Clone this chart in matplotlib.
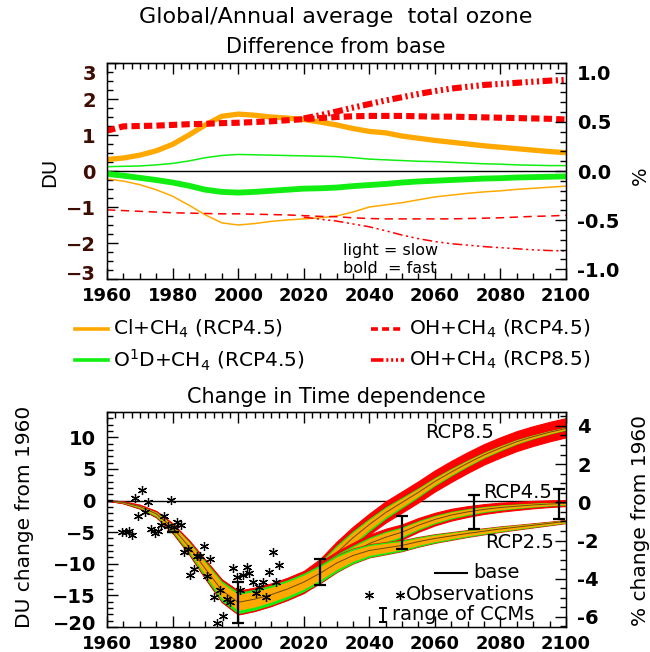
import numpy as np
import matplotlib
matplotlib.use("Agg")
import matplotlib.pyplot as plt
from matplotlib.ticker import MultipleLocator, FormatStrFormatter
from matplotlib.lines import Line2D
from matplotlib.transforms import ScaledTranslation

plt.rcParams['font.family'] = 'DejaVu Sans'
plt.rcParams['lines.scale_dashes'] = False

ORANGE = '#ffa800'
GREEN = '#11ee11'
RED = '#ff0000'
TICK_DARK = '#3d0c02'

# 5-yearly time axis
years = np.arange(1960, 2101, 5)
years85 = years[years >= 2020]

# Difference from base (DU), RCP4.5 sensitivity runs
cl_fast = [0.32, 0.36, 0.44, 0.56, 0.74, 1.00, 1.28, 1.52, 1.58, 1.55, 1.50, 1.47, 1.43, 1.36, 1.28,
           1.18, 1.10, 1.06, 0.97, 0.91, 0.85, 0.80, 0.75, 0.70, 0.66, 0.62, 0.58, 0.54, 0.51]
cl_slow = [-0.22, -0.28, -0.38, -0.52, -0.70, -0.95, -1.22, -1.44, -1.50, -1.46, -1.40, -1.36, -1.33, -1.30, -1.25,
           -1.14, -1.00, -0.94, -0.88, -0.80, -0.72, -0.67, -0.62, -0.58, -0.55, -0.51, -0.48, -0.45, -0.42]
o1d_fast = [-0.08, -0.13, -0.19, -0.25, -0.32, -0.41, -0.52, -0.58, -0.60, -0.58, -0.55, -0.52, -0.49, -0.48, -0.46,
            -0.42, -0.39, -0.36, -0.32, -0.29, -0.27, -0.25, -0.23, -0.21, -0.20, -0.18, -0.17, -0.16, -0.15]
o1d_slow = [0.12, 0.13, 0.14, 0.17, 0.21, 0.28, 0.37, 0.43, 0.46, 0.45, 0.44, 0.43, 0.42, 0.41, 0.40,
            0.37, 0.33, 0.31, 0.29, 0.27, 0.26, 0.24, 0.22, 0.20, 0.19, 0.17, 0.16, 0.15, 0.15]
oh45_fast = [1.12, 1.24, 1.25, 1.26, 1.28, 1.30, 1.31, 1.33, 1.34, 1.36, 1.38, 1.41, 1.44, 1.47, 1.50,
             1.52, 1.53, 1.53, 1.53, 1.52, 1.51, 1.51, 1.50, 1.49, 1.48, 1.47, 1.46, 1.45, 1.43]
oh45_slow = [-1.08, -1.10, -1.12, -1.14, -1.16, -1.17, -1.18, -1.19, -1.19, -1.20, -1.21, -1.22, -1.24, -1.26, -1.27,
             -1.30, -1.32, -1.33, -1.33, -1.33, -1.33, -1.33, -1.32, -1.31, -1.30, -1.28, -1.26, -1.25, -1.23]
# RCP8.5 OH runs from 2020 on (identical to RCP4.5 before)
oh85_fast = [1.46, 1.55, 1.65, 1.76, 1.86, 1.96, 2.05, 2.14, 2.22, 2.29, 2.34, 2.39, 2.42, 2.45, 2.48, 2.51, 2.53]
oh85_slow = [-1.28, -1.34, -1.39, -1.47, -1.55, -1.66, -1.78, -1.88, -1.96, -2.02, -2.06, -2.10, -2.13, -2.16,
             -2.19, -2.21, -2.22]

# Base runs, change from 1960 (DU)
base_hist = [0.0, -0.3, -0.95, -2.1, -4.3, -7.3, -10.8, -14.2, -16.1, -15.6, -14.9, -14.0]
base85 = [-12.9, -11.0, -8.3, -5.9, -3.8, -1.9, -0.3, 1.3, 3.0, 4.5, 5.9, 7.2, 8.3, 9.3, 10.1, 10.8, 11.4]
base45 = [-12.9, -11.4, -9.7, -8.2, -6.8, -5.8, -5.0, -3.9, -3.0, -2.3, -1.8, -1.4, -1.1, -0.9, -0.7, -0.55, -0.45]
base26 = [-12.9, -11.5, -9.9, -8.7, -7.9, -7.5, -7.1, -6.5, -6.0, -5.6, -5.2, -4.85, -4.5, -4.2, -3.9, -3.6, -3.3]

# Observations (DU change from 1960)
obs_year = [1964.5, 1965.8, 1966.8, 1967.6, 1968.5, 1969.4, 1970.6, 1971.5, 1972.6, 1973.5, 1974.5, 1975.6,
            1976.5, 1977.5, 1978.5, 1979.5, 1980.4, 1981.5, 1982.6, 1983.6, 1984.6, 1985.4, 1986.5, 1987.5,
            1988.5, 1989.6, 1990.4, 1991.5, 1992.5, 1993.5, 1994.6, 1995.5, 1996.5, 1997.5, 1998.5, 1999.6,
            2000.6, 2001.6, 2002.6, 2003.4, 2004.6, 2005.4, 2006.5, 2007.5, 2008.5, 2009.5, 2010.5, 2011.5,
            2012.6]
obs_val = [-4.9, -4.9, -4.8, -5.5, 0.4, -2.4, 1.7, -1.8, -0.3, -4.5, -5.1, -4.8,
           -3.8, -2.5, -4.1, 0.1, -4.2, -3.4, -3.9, -8.2, -7.7, -11.8, -10.8, -8.7,
           -8.7, -7.2, -12.0, -9.2, -15.3, -19.4, -14.2, -18.2, -15.6, -16.1, -10.6, -12.1,
           -14.1, -11.8, -10.5, -11.5, -12.9, -14.6, -13.7, -12.9, -15.2, -11.3, -8.2, -12.9,
           -10.2]

# Range of CCMs
ccm_year = [1960, 1980, 2000, 2025, 2050, 2072, 2098]
ccm_lo = [0.0, -5.0, -19.4, -13.4, -7.7, -4.5, -2.9]
ccm_hi = [0.0, -5.0, -12.9, -9.2, -2.4, 0.8, 1.9]

W, H = 650, 652
fig = plt.figure(figsize=(W / 100, H / 100), dpi=100)


def fx(x):
    return x / W


def fy(y):
    return 1 - y / H


def style_axes(ax, ymajor, yminor):
    ax.set_xlim(1960, 2100)
    ax.xaxis.set_major_locator(MultipleLocator(20))
    ax.xaxis.set_minor_locator(MultipleLocator(5))
    ax.yaxis.set_major_locator(MultipleLocator(ymajor))
    ax.yaxis.set_minor_locator(MultipleLocator(yminor))
    ax.tick_params(which='both', direction='in', top=False, right=False, width=1)
    ax.tick_params(which='major', length=8)
    ax.tick_params(which='minor', length=4)
    ax.tick_params(axis='x', labelsize=13, pad=6)
    ax.tick_params(axis='y', labelsize=14, pad=8)
    for sp in ax.spines.values():
        sp.set_linewidth(1.0)
    sec = ax.secondary_xaxis('top')
    sec.xaxis.set_major_locator(MultipleLocator(20))
    sec.xaxis.set_minor_locator(MultipleLocator(2.5))
    sec.tick_params(which='both', direction='in', labeltop=False, width=1)
    sec.tick_params(which='major', length=8)
    sec.tick_params(which='minor', length=4)


def bold_labels(ax):
    for lab in ax.get_xticklabels() + ax.get_yticklabels():
        lab.set_fontweight('bold')


def style_right(axr, ylim, major, minor, fmt):
    axr.set_ylim(*ylim)
    axr.yaxis.set_major_locator(MultipleLocator(major))
    axr.yaxis.set_minor_locator(MultipleLocator(minor))
    axr.yaxis.set_major_formatter(FormatStrFormatter(fmt))
    axr.tick_params(which='both', direction='in', width=1, labelsize=14, pad=8)
    axr.tick_params(which='major', length=8)
    axr.tick_params(which='minor', length=4)
    for lab in axr.get_yticklabels():
        lab.set_fontweight('bold')


def shift_label(ax, loc, dy_px):
    for t in ax.yaxis.get_major_ticks():
        if abs(t.get_loc() - loc) < 1e-6:
            t.label1.set_transform(t.label1.get_transform() +
                                   ScaledTranslation(0, dy_px / 100, fig.dpi_scale_trans))


# ---------------- top panel: difference from base ----------------
ax1 = fig.add_axes([fx(107), fy(279), 459 / W, 216 / H])
style_axes(ax1, 1, 0.25)
ax1.set_ylim(-3, 3)
ax1.set_yticks(np.arange(-3, 4, 1))
bold_labels(ax1)
for lab in ax1.get_yticklabels():
    lab.set_color(TICK_DARK)
ax1.axhline(0, color='k', lw=1.0, zorder=1)

dash = (0, (6, 3))
dash3dot = (0, (7, 2.5, 1.6, 2.5, 1.6, 2.5, 1.6, 2.5))
ax1.plot(years, cl_slow, color=ORANGE, lw=1.1)
ax1.plot(years, o1d_slow, color=GREEN, lw=1.1)
ax1.plot(years, oh45_slow, color=RED, lw=1.1, ls=(0, (6, 4)))
ax1.plot(years85, oh85_slow, color=RED, lw=1.1, ls=dash3dot)
ax1.plot(years, cl_fast, color=ORANGE, lw=3.8)
ax1.plot(years, o1d_fast, color=GREEN, lw=4.2)
ax1.plot(years, oh45_fast, color=RED, lw=4.4, ls=dash)
ax1.plot(years85, oh85_fast, color=RED, lw=4.4, ls=dash3dot)

ax1r = ax1.twinx()
style_right(ax1r, (-1.1, 1.1), 0.5, 0.1, '%.1f')
shift_label(ax1, 3, -9)
shift_label(ax1, -3, 7)

fig.text(fx(343), fy(251), 'light = slow', fontsize=11.5, va='center', ha='left')
fig.text(fx(343), fy(268), 'bold  = fast', fontsize=11.5, va='center', ha='left')

fig.text(fx(336), fy(17), 'Global/Annual average  total ozone', fontsize=16, ha='center', va='center')
fig.text(fx(336), fy(47), 'Difference from base', fontsize=15, ha='center', va='center')
fig.text(fx(50), fy(172), 'DU', fontsize=14, rotation=90, ha='center', va='center')
fig.text(fx(640), fy(176), '%', fontsize=14, rotation=90, ha='center', va='center')

# legend for the top panel
legend_rows = [
    (75, 329, ORANGE, '-', r'Cl+CH$_4$ (RCP4.5)'),
    (75, 360, GREEN, '-', r'O$^1$D+CH$_4$ (RCP4.5)'),
    (371, 329, RED, (0, (5, 3)), r'OH+CH$_4$ (RCP4.5)'),
    (371, 360, RED, (0, (9, 2, 1.5, 2, 1.5, 2, 1.5, 2)), r'OH+CH$_4$ (RCP8.5)'),
]
for x0, y0, col, ls, label in legend_rows:
    fig.add_artist(Line2D([fx(x0), fx(x0 + 33)], [fy(y0), fy(y0)], color=col, lw=2.6, ls=ls,
                          transform=fig.transFigure))
    fig.text(fx(x0 + 38), fy(y0), label, fontsize=14.5, va='center', ha='left')

# ---------------- bottom panel: change in time dependence ----------------
ax2 = fig.add_axes([fx(107), fy(627), 459 / W, 215 / H])
style_axes(ax2, 5, 1)
ax2.set_ylim(-20, 14)
ax2.set_yticks(np.arange(-20, 11, 5))
bold_labels(ax2)
ax2.axhline(0, color='k', lw=1.0, zorder=1)


def rel(a):
    a = np.asarray(a, dtype=float)
    return a - a[0]


def draw_scenario(ax, base, oh_fast, oh_slow, z):
    cl_hi = np.maximum(rel(cl_fast), rel(cl_slow))
    cl_lo = np.minimum(rel(cl_fast), rel(cl_slow))
    o1_hi = np.maximum(rel(o1d_fast), rel(o1d_slow))
    o1_lo = np.minimum(rel(o1d_fast), rel(o1d_slow))
    oh_hi = np.maximum(rel(oh_fast), rel(oh_slow)).clip(min=0)
    oh_lo = np.minimum(rel(oh_fast), rel(oh_slow)).clip(max=0)
    g_hi, g_lo = base + cl_hi + o1_hi, base + cl_lo + o1_lo
    r_hi, r_lo = g_hi + oh_hi, g_lo + oh_lo
    ax.fill_between(years, r_lo, r_hi, color=RED, lw=0.8, ec=RED, zorder=z)
    ax.fill_between(years, g_lo, g_hi, color=GREEN, lw=0, zorder=z + 0.1)
    ax.fill_between(years, base + cl_lo, base + cl_hi, color=ORANGE, lw=0, zorder=z + 0.2)
    ax.plot(years, base, color='#6b4a10', lw=0.7, zorder=z + 0.3)


oh85_fast_full = np.concatenate([oh45_fast[:12], oh85_fast])
oh85_slow_full = np.concatenate([oh45_slow[:12], oh85_slow])
zero_oh = np.zeros(len(years))
draw_scenario(ax2, np.concatenate([base_hist, base85]), oh85_fast_full, oh85_slow_full, 2)
draw_scenario(ax2, np.concatenate([base_hist, base45]), oh45_fast, oh45_slow, 3)
draw_scenario(ax2, np.concatenate([base_hist, base26]), zero_oh, zero_oh, 4)

ax2.plot(obs_year, obs_val, ls='none', marker=(6, 2, 0), ms=6.5, mew=0.9, color='k', zorder=6)

ccm_lo_a = np.array(ccm_lo)
ccm_hi_a = np.array(ccm_hi)
ccm_mid = (ccm_lo_a + ccm_hi_a) / 2
ax2.errorbar(ccm_year, ccm_mid, yerr=[ccm_mid - ccm_lo_a, ccm_hi_a - ccm_mid], fmt='none', ecolor='k',
             elinewidth=1.6, capsize=4, capthick=1.6, zorder=7)

ax2r = ax2.twinx()
style_right(ax2r, (-6.53, 4.73), 2, 0.5, '%d')
shift_label(ax2, -20, 5)

fig.text(fx(336), fy(397), 'Change in Time dependence', fontsize=15, ha='center', va='center')
fig.text(fx(25), fy(517), 'DU change from 1960', fontsize=14.5, rotation=90, ha='center', va='center')
fig.text(fx(641), fy(520), '% change from 1960', fontsize=14.5, rotation=90, ha='center', va='center')

fig.text(fx(425), fy(433), 'RCP8.5', fontsize=14, ha='left', va='center')
fig.text(fx(483), fy(492), 'RCP4.5', fontsize=14, ha='left', va='center')
fig.text(fx(485), fy(543), 'RCP2.5', fontsize=14, ha='left', va='center')

# legend for the bottom panel
fig.add_artist(Line2D([fx(435), fx(467)], [fy(573), fy(573)], color='k', lw=1.5, transform=fig.transFigure))
fig.text(fx(473), fy(573), 'base', fontsize=14, ha='left', va='center')
fig.add_artist(Line2D([fx(369), fx(400)], [fy(595), fy(595)], ls='none', marker=(6, 2, 0), ms=6.5, mew=0.9,
                      color='k', transform=fig.transFigure))
fig.text(fx(406), fy(595), 'Observations', fontsize=14, ha='left', va='center')
fig.add_artist(Line2D([fx(383), fx(383)], [fy(608), fy(622)], color='k', lw=1.4, transform=fig.transFigure))
for yy in (608, 622):
    fig.add_artist(Line2D([fx(380), fx(386)], [fy(yy), fy(yy)], color='k', lw=1.4, transform=fig.transFigure))
fig.text(fx(392), fy(615), 'range of CCMs', fontsize=14, ha='left', va='center')

fig.savefig('out.png', dpi=100)
